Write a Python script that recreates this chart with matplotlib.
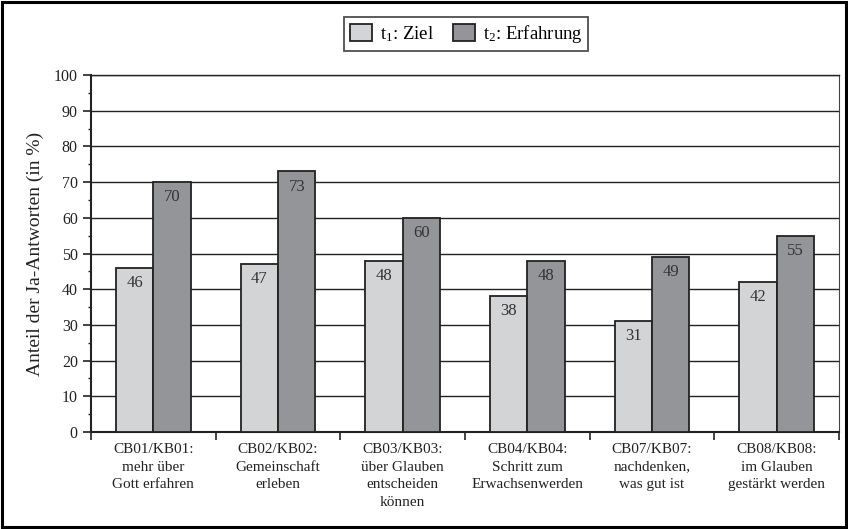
import matplotlib
matplotlib.use("Agg")
import matplotlib.pyplot as plt
from matplotlib.patches import Rectangle
import numpy as np

plt.rcParams['font.family'] = ['Liberation Serif', 'DejaVu Serif']
plt.rcParams['mathtext.fontset'] = 'custom'
plt.rcParams['mathtext.rm'] = 'Liberation Serif'
plt.rcParams['mathtext.it'] = 'Liberation Serif:italic'

categories = [
    "CB01/KB01:\nmehr über\nGott erfahren",
    "CB02/KB02:\nGemeinschaft\nerleben",
    "CB03/KB03:\nüber Glauben\nentscheiden\nkönnen",
    "CB04/KB04:\nSchritt zum\nErwachsenwerden",
    "CB07/KB07:\nnachdenken,\nwas gut ist",
    "CB08/KB08:\nim Glauben\ngestärkt werden",
]
t1_ziel = [46, 47, 48, 38, 31, 42]
t2_erfahrung = [70, 73, 60, 48, 49, 55]
series_labels = [r"t$_\mathrm{1}$: Ziel", r"t$_\mathrm{2}$: Erfahrung"]
y_label = "Anteil der Ja-Antworten (in %)"

c_light = "#d3d4d6"
c_dark = "#939598"

fig = plt.figure(figsize=(8.48, 5.29), dpi=100)
ax = fig.add_axes([91/848, 1-432/529, (839-91)/848, (432-75)/529])

x = np.arange(len(categories))
w = 0.3
b1 = ax.bar(x - w/2, t1_ziel, w, color=c_light, edgecolor="#222222", linewidth=1.3, zorder=3, label=series_labels[0])
b2 = ax.bar(x + w/2, t2_erfahrung, w, color=c_dark, edgecolor="#222222", linewidth=1.3, zorder=3, label=series_labels[1])

for bars, vals in ((b1, t1_ziel), (b2, t2_erfahrung)):
    for r, v in zip(bars, vals):
        ax.text(r.get_x() + r.get_width()/2, v - 2.0, str(v), ha="center", va="top",
                fontsize=12, color="#333333", zorder=4)

ax.set_xlim(-0.5, len(categories) - 0.5)
ax.set_ylim(0, 100)
ax.set_yticks(np.arange(0, 101, 10))
ax.set_yticks(np.arange(0, 101, 5), minor=True)
ax.yaxis.grid(True, which="major", color="#222222", linewidth=1.0, zorder=0)
ax.set_axisbelow(True)

ax.set_xticks(np.arange(-0.5, len(categories), 1.0))
ax.set_xticklabels([])
ax.set_xticks(x, minor=True)
ax.set_xticklabels(categories, minor=True, fontsize=11, color="#222222", linespacing=1.45)
ax.tick_params(axis="x", which="major", direction="out", length=6, width=1.2, color="#222222")
ax.tick_params(axis="x", which="minor", length=0, pad=8)
ax.tick_params(axis="y", which="major", direction="out", length=6, width=1.2, color="#222222",
               labelsize=11.5, labelcolor="#222222")
ax.tick_params(axis="y", which="minor", direction="out", length=2, width=1.0, color="#222222")

ax.spines["left"].set_linewidth(1.5)
ax.spines["bottom"].set_linewidth(1.5)
ax.spines["left"].set_color("#222222")
ax.spines["bottom"].set_color("#222222")
ax.spines["right"].set_linewidth(0.8)
ax.spines["right"].set_color("#444444")
ax.spines["top"].set_linewidth(1.0)
ax.spines["top"].set_color("#222222")

ax.set_ylabel(y_label, fontsize=14, color="#222222", labelpad=7)

leg = fig.legend(handles=[b1, b2], loc="center", bbox_to_anchor=(466/848, 1-34/529), ncol=2,
                 fontsize=13.5, frameon=True, fancybox=False, edgecolor="#222222",
                 handlelength=1.2, handleheight=1.0, columnspacing=1.0, handletextpad=0.4,
                 borderpad=0.3)
leg.get_frame().set_linewidth(1.3)

fig.patches.append(Rectangle((0.002, 0.003), 0.996, 0.994, transform=fig.transFigure,
                             fill=False, edgecolor="black", linewidth=2.2))

fig.savefig("out.png", dpi=100)
